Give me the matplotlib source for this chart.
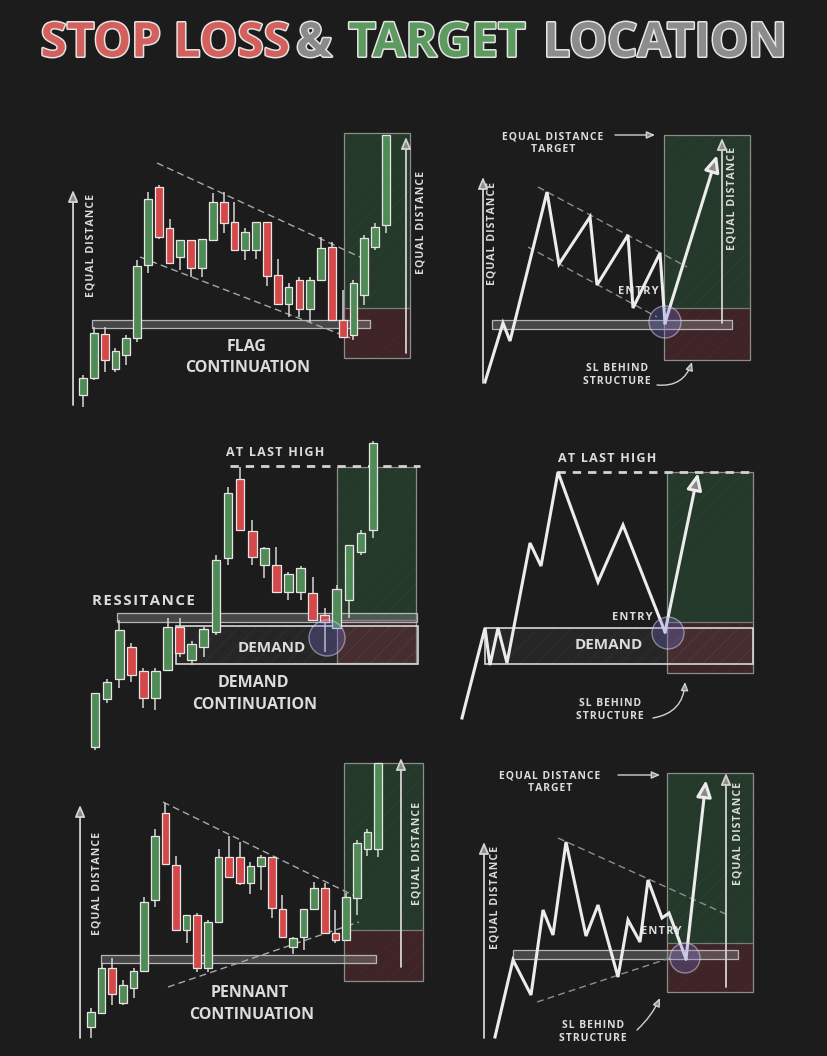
import matplotlib
matplotlib.use('Agg')
import matplotlib.pyplot as plt
import matplotlib.patheffects as pe
from matplotlib.patches import Rectangle, Ellipse
import numpy as np

W, H = 828, 1056
BG = '#1c1c1c'
TXT = '#dcdcdc'
CANDLE_G = '#4e8b56'
CANDLE_R = '#d4484a'
EDGE = '#ebe4e4'
ZONE_G = '#25392b'
ZONE_R = '#3f2427'

plt.rcParams['font.family'] = ['Open Sans', 'DejaVu Sans']
plt.rcParams['hatch.linewidth'] = 0.6

# ---- data (prices) ----
flag_open  = [25, 42, 86, 51, 65, 82, 155, 233, 192, 163, 180, 152, 180, 218, 198, 170, 170, 198, 145, 116, 140, 111, 140, 173, 100, 85, 125, 173, 195]
flag_high  = [45, 93, 93, 72, 85, 160, 228, 235, 201, 180, 180, 181, 227, 228, 218, 192, 198, 198, 161, 137, 143, 143, 183, 178, 130, 140, 185, 197, 285]
flag_low   = [13, 40, 48, 48, 55, 78, 147, 181, 157, 150, 143, 143, 179, 187, 170, 160, 161, 134, 116, 103, 103, 98, 140, 100, 83, 80, 115, 170, 187]
flag_close = [42, 87, 60, 69, 82, 154, 221, 183, 157, 180, 152, 181, 218, 197, 170, 188, 198, 144, 116, 133, 111, 140, 172, 100, 83, 137, 182, 193, 285]

demand_open  = [13, 61, 81, 113, 89, 62, 90, 133, 100, 113, 128, 202, 281, 229, 195, 195, 168, 168, 167, 145, 132, 160, 208, 230]
demand_high  = [67, 81, 140, 117, 92, 92, 142, 142, 119, 133, 205, 273, 293, 240, 213, 213, 188, 194, 183, 152, 175, 215, 230, 319]
demand_low   = [10, 57, 72, 78, 52, 50, 90, 103, 95, 103, 125, 195, 230, 195, 182, 168, 160, 160, 140, 108, 132, 142, 205, 222]
demand_close = [67, 78, 130, 85, 62, 89, 133, 107, 116, 131, 200, 267, 230, 203, 212, 168, 186, 192, 140, 138, 171, 215, 227, 317]

pennant_open  = [29, 43, 88, 53, 68, 85, 156, 243, 191, 126, 141, 88, 134, 199, 199, 173, 190, 199, 147, 109, 119, 147, 168, 123, 116, 158, 207, 207]
pennant_high  = [48, 93, 98, 76, 88, 159, 227, 253, 200, 141, 143, 136, 207, 220, 214, 194, 201, 199, 161, 119, 147, 174, 173, 146, 163, 216, 227, 293]
pennant_low   = [18, 42, 51, 51, 58, 84, 149, 192, 126, 113, 84, 84, 133, 179, 171, 162, 166, 138, 119, 102, 106, 147, 122, 113, 115, 141, 200, 199]
pennant_close = [44, 88, 62, 71, 85, 154, 220, 192, 126, 141, 88, 134, 199, 179, 173, 190, 199, 148, 119, 118, 147, 168, 123, 116, 159, 213, 224, 293]

flag_line_t = [5, 23, 30, 67, 79, 110, 117, 148, 153, 180, 185]
flag_line_p = [38, 97, 79, 228, 156, 203, 135, 185, 112, 167, 97]
flag_tip = (237, 265)

demand_line_t = [12, 35, 40, 48, 57, 80, 91, 108, 148, 173, 215]
demand_line_p = [42, 132, 95, 132, 97, 217, 194, 288, 178, 235, 128]
demand_tip = (248, 287)

pennant_line_t = [15, 33, 51, 63, 73, 86, 106, 118, 138, 148, 160, 168, 182, 189, 206]
pennant_line_p = [19, 96, 61, 146, 121, 214, 120, 151, 79, 136, 114, 176, 138, 143, 97]
pennant_tip = (226, 276)

fig = plt.figure(figsize=(W / 100, H / 100), dpi=100, facecolor=BG)


def panel(box, xo, step, yo):
    x0, y0, x1, y1 = box
    ax = fig.add_axes([x0 / W, 1 - y1 / H, (x1 - x0) / W, (y1 - y0) / H])
    ax.set_xlim((x0 - xo) / step, (x1 - xo) / step)
    ax.set_ylim(yo - y1, yo - y0)
    ax.axis('off')
    return ax


def spaced(s):
    # a little letter spacing, like the hand lettering
    return '\n'.join('\u200a'.join(line) for line in s.split('\n'))


def candles(ax, o, h, l, c):
    x = np.arange(len(o))
    o, h, l, c = map(np.asarray, (o, h, l, c))
    cols = np.where(c >= o, CANDLE_G, CANDLE_R)
    ax.vlines(x, l, h, color='#d6d6d6', lw=1.1, zorder=3)
    ax.bar(x, c - o, bottom=o, width=0.72, color=cols, edgecolor=EDGE, lw=0.9, zorder=4)


def zone(ax, x0, x1, stop, entry, target):
    ax.add_patch(Rectangle((x0, entry), x1 - x0, target - entry, fc=ZONE_G, ec='none', zorder=1))
    ax.add_patch(Rectangle((x0, stop), x1 - x0, entry - stop, fc=ZONE_R, ec='none', zorder=1))
    ax.add_patch(Rectangle((x0, stop), x1 - x0, target - stop, fill=False, hatch='//',
                           ec=(1, 1, 1, 0.035), lw=0, zorder=1.1))
    ax.add_patch(Rectangle((x0, stop), x1 - x0, target - stop, fill=False, ec='#8c8c8c', lw=0.9, zorder=1.2))
    ax.plot([x0, x1], [entry, entry], color='#7a7a7a', lw=0.9, zorder=1.2)


def band(ax, x0, x1, lo, hi, fc=(0.6, 0.6, 0.6, 0.35), ec='#b5b5b5', lw=0.9, z=2):
    ax.add_patch(Rectangle((x0, lo), x1 - x0, hi - lo, fc=fc, ec=ec, lw=lw, zorder=z))


def demand_box(ax, x0, x1, lo, hi):
    band(ax, x0, x1, lo, hi, fc=(0.45, 0.45, 0.45, 0.12), ec='#d8d8d8', lw=1.2, z=2.2)
    ax.add_patch(Rectangle((x0, lo), x1 - x0, hi - lo, fill=False, hatch='//',
                           ec=(1, 1, 1, 0.05), lw=0, zorder=2.1))


def dashed(ax, xs, ys, col='#a8a8a8', lw=1.0, dash=(5, 3)):
    ax.plot(xs, ys, color=col, lw=lw, dashes=dash, zorder=2.5)


def vlabel(ax, x, y, s='EQUAL DISTANCE', size=7.6):
    ax.text(x, y, spaced(s), rotation=90, ha='center', va='center', color=TXT, fontsize=size, fontweight='bold')


def label(ax, x, y, s, size=11.5, track=False, **kw):
    ax.text(x, y, spaced(s) if track else s, ha='center', va='center', color=TXT,
            fontsize=size, fontweight='bold', **kw)


def arrow(ax, start, end, col='#d2d2d2', lw=1.3, head='-|>,head_length=0.7,head_width=0.3', rad=0.0, z=6):
    ax.annotate('', xy=end, xytext=start,
                arrowprops=dict(arrowstyle=head, fc='#8a8a8a', ec=col, lw=lw,
                                shrinkA=0, shrinkB=0, connectionstyle=f'arc3,rad={rad}'),
                zorder=z, annotation_clip=False)


def entry_circle(ax, x, y, r, step):
    ax.add_patch(Ellipse((x, y), 2 * r / step, 2 * r, fc=(0.45, 0.45, 0.85, 0.28),
                         ec=(0.85, 0.85, 0.95, 0.5), lw=1, zorder=7))


def zigzag(ax, t, p, tip):
    ax.plot(t, p, color='#ececec', lw=2.2, solid_joinstyle='miter', zorder=5)
    arrow(ax, (t[-1], p[-1]), tip, col='#ececec', lw=2.2,
          head='-|>,head_length=1.0,head_width=0.45', z=5)


SMALL = dict(lw=1.0, head='-|>,head_length=0.5,head_width=0.22')

# ---------------- title ----------------
pieces = [('STOP LOSS', '#d4605e', 165), ('&', '#8a8a8a', 314),
          ('TARGET', '#5c9a5f', 437), ('LOCATION', '#8c8c8c', 665)]
renderer = fig.canvas.get_renderer()
tmp = [fig.text(0, 0, s, fontsize=36, fontweight='bold') for s, _, _ in pieces]
total = sum(t.get_window_extent(renderer).width for t in tmp)
for t in tmp:
    t.remove()
size = 36 * 706 / total
for s, c, xc in pieces:
    fig.text(xc / W, 1 - 44 / H, s, color=c, fontsize=size, fontweight='bold', ha='center', va='center',
             path_effects=[pe.withStroke(linewidth=2.2, foreground='#e4e4e4')])

# ---------------- panel A: flag (candles) ----------------
ax = panel((55, 115, 440, 420), 83, 10.82, 420)
zone(ax, 24.1, 30.2, 62, 112, 287)
band(ax, 0.83, 26.5, 92, 100)
dashed(ax, [6.84, 25.6], [257, 163])
dashed(ax, [5.27, 24.7], [163, 82])
candles(ax, flag_open, flag_high, flag_low, flag_close)
arrow(ax, (-0.92, 15), (-0.92, 230))
vlabel(ax, 0.74, 175)
arrow(ax, (29.85, 67), (29.85, 283))
vlabel(ax, 31.24, 198)
label(ax, 15.16, 73, 'FLAG')
label(ax, 15.25, 52, 'CONTINUATION')

# ---------------- panel D: flag (line) ----------------
ax = panel((440, 115, 828, 420), 480, 1, 420)
zone(ax, 184, 270, 60, 112, 285)
band(ax, 12, 252, 91, 100)
dashed(ax, [58, 207], [233, 153], col='#8e8e8e')
dashed(ax, [48, 177], [173, 103], col='#8e8e8e')
zigzag(ax, flag_line_t, flag_line_p, flag_tip)
entry_circle(ax, 185, 98, 16, 1)
arrow(ax, (3, 37), (3, 243))
vlabel(ax, 12, 187)
arrow(ax, (242, 97), (242, 282))
vlabel(ax, 252, 222)
label(ax, 73, 277, 'EQUAL DISTANCE\nTARGET', size=7.5, track=True, linespacing=1.2)
arrow(ax, (135, 285), (175, 285), **SMALL)
label(ax, 158, 128, 'ENTRY', size=8, track=True)
label(ax, 137, 45, 'SL BEHIND\nSTRUCTURE', size=7.5, track=True, linespacing=1.2)
arrow(ax, (177, 35), (212, 58), rad=0.4, **SMALL)

# ---------------- panel B: demand (candles) ----------------
ax = panel((55, 430, 440, 760), 95, 12.09, 760)
zone(ax, 20.0, 26.55, 97, 140, 293)
band(ax, 1.82, 26.6, 138, 147)
demand_box(ax, 6.7, 26.7, 96, 134)
dashed(ax, [11.17, 26.9], [294, 294], col='#d2d2d2', lw=2.0, dash=(3, 2.5))
candles(ax, demand_open, demand_high, demand_low, demand_close)
entry_circle(ax, 19.19, 122, 18, 12.09)
label(ax, 14.9, 307, 'AT LAST HIGH', size=9, track=True)
label(ax, 3.97, 159, 'RESSITANCE', size=10.8, track=True)
label(ax, 14.64, 112, 'DEMAND', size=11)
label(ax, 13.07, 77, 'DEMAND')
label(ax, 13.2, 55, 'CONTINUATION')

# ---------------- panel E: demand (line) ----------------
ax = panel((440, 430, 828, 760), 450, 1, 760)
zone(ax, 217, 303, 87, 138, 288)
demand_box(ax, 35, 303, 96, 132)
dashed(ax, [107, 305], [288, 288], col='#d2d2d2', lw=2.0, dash=(3, 2.5))
zigzag(ax, demand_line_t, demand_line_p, demand_tip)
entry_circle(ax, 218, 127, 16, 1)
label(ax, 157, 302, 'AT LAST HIGH', size=9, track=True)
label(ax, 159, 115, 'DEMAND', size=11)
label(ax, 182, 142, 'ENTRY', size=8, track=True)
label(ax, 160, 50, 'SL BEHIND\nSTRUCTURE', size=7.5, track=True, linespacing=1.2)
arrow(ax, (203, 42), (235, 78), rad=0.4, **SMALL)

# ---------------- panel C: pennant (candles) ----------------
ax = panel((55, 745, 440, 1056), 91, 10.63, 1056)
zone(ax, 23.8, 31.2, 75, 126, 293)
band(ax, 0.94, 26.8, 93, 101)
dashed(ax, [6.77, 25.0], [254, 159])
dashed(ax, [7.24, 25.2], [69, 134])
candles(ax, pennant_open, pennant_high, pennant_low, pennant_close)
arrow(ax, (-1.03, 18), (-1.03, 251))
vlabel(ax, 0.56, 173)
arrow(ax, (29.16, 89), (29.16, 298))
vlabel(ax, 30.67, 203)
label(ax, 14.96, 63, 'PENNANT')
label(ax, 15.15, 41, 'CONTINUATION')

# ---------------- panel F: pennant (line) ----------------
ax = panel((440, 745, 828, 1056), 480, 1, 1056)
zone(ax, 187, 273, 64, 113, 283)
band(ax, 33, 258, 97, 106)
dashed(ax, [78, 250], [218, 140], col='#8e8e8e')
dashed(ax, [57, 190], [54, 98], col='#8e8e8e')
zigzag(ax, pennant_line_t, pennant_line_p, pennant_tip)
entry_circle(ax, 205, 98, 15, 1)
arrow(ax, (4, 18), (4, 214))
vlabel(ax, 15, 159)
arrow(ax, (246, 69), (246, 283))
vlabel(ax, 258, 223)
label(ax, 70, 274, 'EQUAL DISTANCE\nTARGET', size=7.5, track=True, linespacing=1.2)
arrow(ax, (138, 281), (180, 281), **SMALL)
label(ax, 181, 124, 'ENTRY', size=8, track=True)
label(ax, 113, 24, 'SL BEHIND\nSTRUCTURE', size=7.5, track=True, linespacing=1.2)
arrow(ax, (157, 26), (180, 58), rad=0.1, **SMALL)

fig.savefig('out.png', dpi=100, facecolor=BG)
